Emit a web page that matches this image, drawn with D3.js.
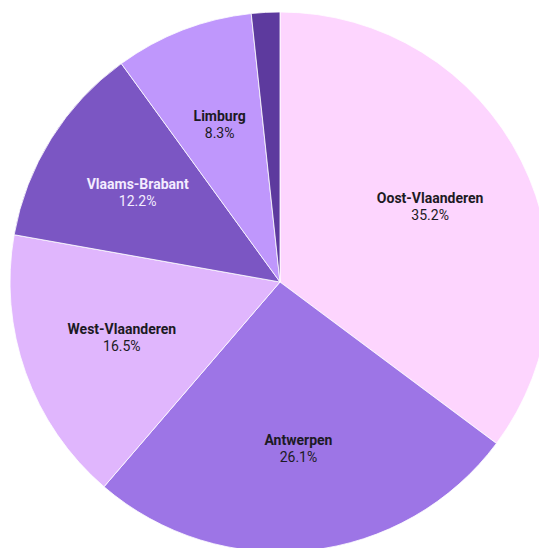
<html>
  <head>
    <script src="https://cdn.jsdelivr.net/npm/d3@7"></script>
    <style type="text/css">
    body { margin: 0; background: #fff; }
    path.slice { stroke: #fff; stroke-width: 1; stroke-opacity: 0.8; }
    text.name { font-family: Roboto, sans-serif; font-size: 14px; font-weight: bold; text-anchor: middle; }
    text.pct { font-family: Roboto, sans-serif; font-size: 14px; text-anchor: middle; }
    </style>
  </head>
  <body>
    <script type="text/javascript">
      var categories = ["Oost-Vlaanderen", "Antwerpen", "West-Vlaanderen", "Vlaams-Brabant", "Limburg", "Overig"];
      var values = [35.2, 26.1, 16.5, 12.2, 8.3, 1.7];
      var colors = ["#fdd5fe", "#9d75e6", "#e0b6fd", "#7b56c3", "#bf97fc", "#5d3a9e"];
      var textColors = ["#1c1a24", "#1c1a24", "#1c1a24", "#f3ecff", "#1c1a24", "#fff"];
      var showLabel = [true, true, true, true, true, false];

      var width = 539, height = 548;
      var cx = 280, cy = 282, r = 270;

      var svg = d3.select("body").append("svg")
        .attr("width", width)
        .attr("height", height);

      var g = svg.append("g").attr("transform", "translate(" + cx + "," + cy + ")");

      var pie = d3.pie().sort(null).value(function(d) { return d; });
      var arcs = pie(values);
      var arc = d3.arc().innerRadius(0).outerRadius(r);
      var labelArc = d3.arc().innerRadius(r * 0.622).outerRadius(r * 0.622);

      g.selectAll("path.slice")
        .data(arcs)
        .enter()
        .append("path")
        .attr("class", "slice")
        .attr("fill", function(d, i) { return colors[i]; })
        .attr("d", arc);

      var labels = g.selectAll("g.label")
        .data(arcs.filter(function(d, i) { return showLabel[i]; }))
        .enter()
        .append("g")
        .attr("class", "label")
        .attr("transform", function(d) { return "translate(" + labelArc.centroid(d) + ")"; });

      labels.append("text")
        .attr("class", "name")
        .attr("y", -4)
        .attr("fill", function(d) { return textColors[d.index]; })
        .text(function(d) { return categories[d.index]; });

      labels.append("text")
        .attr("class", "pct")
        .attr("y", 13)
        .attr("fill", function(d) { return textColors[d.index]; })
        .text(function(d) { return d3.format(".1f")(values[d.index]) + "%"; });
    </script>
  </body>
</html>
